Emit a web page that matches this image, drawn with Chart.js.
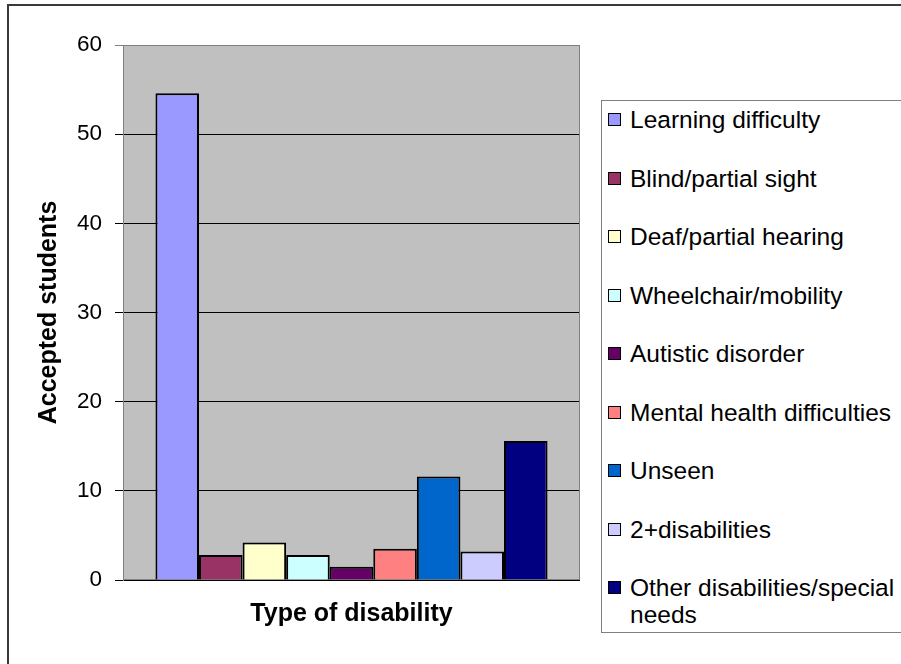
<!DOCTYPE html>
<html>
<head>
<meta charset="utf-8">
<script src="https://cdn.jsdelivr.net/npm/chart.js@4/dist/chart.umd.min.js"></script>
<style>
  html, body { margin: 0; padding: 0; background: #fff; overflow: hidden; }
  #wrap { position: relative; width: 901px; height: 664px; overflow: hidden; }
  #frame { position: absolute; left: 7px; top: 4px; width: 1000px; height: 1000px; border: 2px solid #3a3a3a; box-sizing: border-box; }
  #chart { position: absolute; left: 0; top: 0; }
  #legend { position: absolute; left: 601px; top: 100px; width: 340px; height: 533px; border: 1px solid #808080; background: #fff;
            box-sizing: border-box; padding-top: 5px; font-family: "Liberation Sans", Arial, sans-serif; font-size: 24.5px; color: #000; }
  .item { position: relative; line-height: 27px; margin-bottom: 31.5px; padding-left: 28px; width: 280px; }
  .box { position: absolute; left: 6px; top: 7px; width: 11px; height: 11px; border: 1px solid #000; }
</style>
</head>
<body>
<div id="wrap">
  <div id="frame"></div>
  <canvas id="chart" width="901" height="664"></canvas>
  <div id="legend"></div>
</div>
<script>
const disabilities = [
  "Learning difficulty",
  "Blind/partial sight",
  "Deaf/partial hearing",
  "Wheelchair/mobility",
  "Autistic disorder",
  "Mental health difficulties",
  "Unseen",
  "2+disabilities",
  "Other disabilities/special needs"
];
const students = [54.6, 2.8, 4.2, 2.8, 1.5, 3.5, 11.6, 3.2, 15.6];
const colours = ["#9999FF", "#993366", "#FFFFCC", "#CCFFFF", "#660066", "#FF8080", "#0066CC", "#CCCCFF", "#000080"];
const yTicks = [0, 10, 20, 30, 40, 50, 60];

Chart.defaults.font.family = '"Liberation Sans", Arial, sans-serif';
Chart.defaults.color = '#000';

// grey plot background + grey frame round the plot area
const plotArea = {
  id: 'plotArea',
  beforeDraw(chart) {
    const { ctx, chartArea: a } = chart;
    ctx.save();
    ctx.fillStyle = '#C0C0C0';
    ctx.fillRect(a.left, a.top, a.right - a.left, a.bottom - a.top);
    ctx.restore();
  },
  beforeDatasetsDraw(chart) {
    const { ctx, chartArea: a } = chart;
    ctx.save();
    ctx.strokeStyle = '#808080';
    ctx.lineWidth = 1;
    ctx.strokeRect(a.left + 0.5, a.top + 0.5, a.right - a.left - 1, a.bottom - a.top - 1);
    ctx.restore();
  }
};

new Chart(document.getElementById('chart'), {
  type: 'bar',
  data: {
    labels: [''],
    datasets: disabilities.map((name, i) => ({
      label: name,
      data: [students[i]],
      backgroundColor: colours[i],
      borderColor: '#000',
      borderWidth: 2,
      categoryPercentage: 0.858,
      barPercentage: 1
    }))
  },
  options: {
    responsive: false,
    animation: false,
    layout: { padding: { top: 45, right: 321, bottom: 0, left: 0 } },
    plugins: {
      legend: { display: false },
      tooltip: { enabled: false }
    },
    scales: {
      x: {
        grid: { display: false },
        border: { display: false },
        ticks: { display: false },
        title: {
          display: true,
          text: 'Type of disability',
          font: { size: 25, weight: 'bold' },
          padding: { top: 0, bottom: 35 }
        },
        afterFit(scale) { scale.height = 84; }
      },
      y: {
        min: 0,
        max: 60,
        afterBuildTicks(scale) { scale.ticks = yTicks.map(v => ({ value: v })); },
        ticks: { font: { size: 22.5 }, padding: 13 },
        grid: {
          color: ctx => (ctx.tick && ctx.tick.value === 60) ? '#808080' : '#000',
          tickLength: 8,
          lineWidth: 1
        },
        border: { display: true, color: '#808080' },
        title: {
          display: true,
          text: 'Accepted students',
          font: { size: 25, weight: 'bold' },
          padding: { top: 34, bottom: 0 }
        },
        afterFit(scale) { scale.width = 123; }
      }
    }
  },
  plugins: [plotArea]
});

// legend box on the right, built from the same arrays
const legend = document.getElementById('legend');
disabilities.forEach((name, i) => {
  const item = document.createElement('div');
  item.className = 'item';
  const box = document.createElement('span');
  box.className = 'box';
  box.style.background = colours[i];
  item.appendChild(box);
  item.appendChild(document.createTextNode(name));
  legend.appendChild(item);
});
</script>
</body>
</html>
